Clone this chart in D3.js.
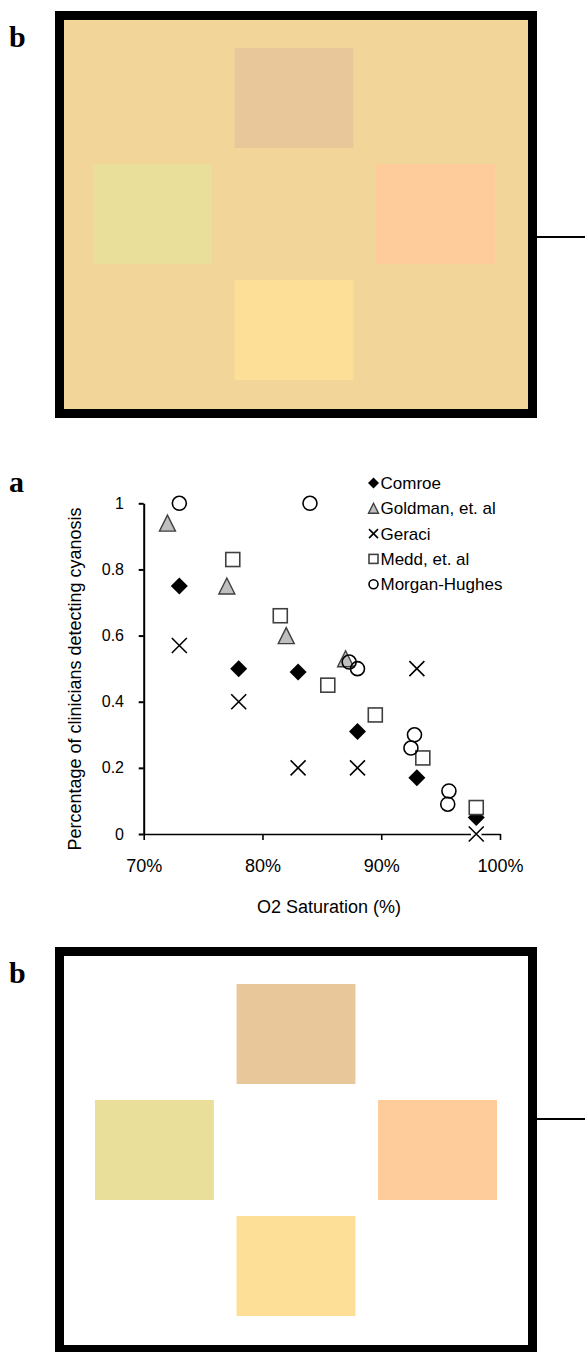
<!DOCTYPE html>
<html>
<head>
<meta charset="utf-8">
<script src="https://cdn.jsdelivr.net/npm/d3@7"></script>
<style>
  body { margin: 0; background: #fff; }
  svg { display: block; }
</style>
</head>
<body>
<div id="figure"></div>
<script>
// Scatter data (O2 saturation, fraction of clinicians detecting cyanosis)
const seriesNames = ['Comroe', 'Goldman, et. al', 'Geraci', 'Medd, et. al', 'Morgan-Hughes'];
const comroe = [[0.73, 0.75], [0.78, 0.50], [0.83, 0.49], [0.88, 0.31], [0.93, 0.17], [0.98, 0.05]];
const goldman = [[0.72, 0.94], [0.77, 0.75], [0.82, 0.60], [0.87, 0.53]];
const geraci = [[0.73, 0.57], [0.78, 0.40], [0.83, 0.20], [0.88, 0.20], [0.93, 0.50], [0.98, 0.00]];
const medd = [[0.775, 0.83], [0.815, 0.66], [0.855, 0.45], [0.895, 0.36], [0.935, 0.23], [0.98, 0.08]];
const morganHughes = [[0.73, 1.00], [0.84, 1.00], [0.873, 0.52], [0.88, 0.50], [0.928, 0.30], [0.925, 0.26], [0.957, 0.13], [0.956, 0.09]];
const xTicks = [0.7, 0.8, 0.9, 1.0];
const yTicks = [0, 0.2, 0.4, 0.6, 0.8, 1];

// Schematic panels: four coloured patches placed on a 3x3 grid
const patchCells = [[1, 0], [0, 1], [2, 1], [1, 2]];
const patchColors = ['#E8C79B', '#EADF9A', '#FECB9A', '#FDDF98'];

const width = 585, height = 1352;
const font = "Arial, 'Liberation Sans', sans-serif";

const svg = d3.select('#figure').append('svg')
    .attr('width', width)
    .attr('height', height);

// ---- panel b (used twice: filled background on top, white at the bottom)
function drawSchematic(top, boxFill, dx, connectorY) {
    const g = svg.append('g');
    const box = { left: 55, right: 537, top: top, bottom: top + 407 };

    g.append('text')
        .attr('x', 9).attr('y', top + 36)
        .attr('font-family', "'Times New Roman', 'Liberation Serif', serif")
        .attr('font-weight', 'bold').attr('font-size', 30)
        .text('b');

    // connector to the right
    g.append('line')
        .attr('x1', box.right).attr('x2', width)
        .attr('y1', connectorY).attr('y2', connectorY)
        .attr('stroke', '#000').attr('stroke-width', 2);

    g.append('rect')
        .attr('x', box.left + 4.5).attr('y', box.top + 4.5)
        .attr('width', box.right - box.left - 9)
        .attr('height', box.bottom - box.top - 9)
        .attr('fill', boxFill)
        .attr('stroke', '#000').attr('stroke-width', 9);

    const col = d3.scaleBand().domain([0, 1, 2])
        .range([93 + dx, 495 + dx]).paddingInner(0.16);
    const row = d3.scaleBand().domain([0, 1, 2])
        .range([top + 37, top + 369]).paddingInner(0.138);

    g.selectAll('.patch')
        .data(patchCells)
        .enter()
        .append('rect')
        .attr('class', 'patch')
        .attr('x', d => col(d[0]))
        .attr('y', d => row(d[1]))
        .attr('width', col.bandwidth())
        .attr('height', row.bandwidth())
        .attr('fill', (d, i) => patchColors[i]);
}

drawSchematic(11, '#F2D598', 0, 237);
drawSchematic(947, '#FFFFFF', 2, 1119);

// ---- panel a: scatter
const x = d3.scaleLinear().domain([0.7, 1.0]).range([143.7, 500]);
const y = d3.scaleLinear().domain([0, 1]).range([834, 503.3]);

svg.append('text')
    .attr('x', 9).attr('y', 492)
    .attr('font-family', "'Times New Roman', 'Liberation Serif', serif")
    .attr('font-weight', 'bold').attr('font-size', 30)
    .text('a');

const yAxis = svg.append('g')
    .attr('transform', `translate(${x(0.7)},0)`)
    .call(d3.axisLeft(y).tickValues(yTicks).tickFormat(d3.format('~g'))
        .tickSize(5).tickSizeOuter(0).tickPadding(14.7));

const xAxis = svg.append('g')
    .attr('transform', `translate(0,${y(0)})`)
    .call(d3.axisBottom(x).tickValues(xTicks).tickFormat(d3.format('.0%'))
        .tickSize(6).tickSizeOuter(0).tickPadding(19));

yAxis.selectAll('path, line').attr('stroke', '#000').attr('stroke-width', 2);
xAxis.selectAll('path, line').attr('stroke', '#000').attr('stroke-width', 1.6);
yAxis.selectAll('text').attr('font-family', font).attr('font-size', 16).attr('fill', '#000');
xAxis.selectAll('text').attr('font-family', font).attr('font-size', 18).attr('fill', '#000');

svg.append('text')
    .attr('transform', 'translate(81,679) rotate(-90)')
    .attr('text-anchor', 'middle')
    .attr('font-family', font).attr('font-size', 18)
    .text('Percentage of clinicians detecting cyanosis');

svg.append('text')
    .attr('x', 329).attr('y', 913)
    .attr('text-anchor', 'middle')
    .attr('font-family', font).attr('font-size', 18)
    .text('O2 Saturation (%)');

// marker drawing helpers, s = half size
const markers = [
    (g, s) => g.append('path')
        .attr('d', `M0,${-s}L${s},0L0,${s}L${-s},0Z`)
        .attr('fill', '#000'),
    (g, s) => g.append('path')
        .attr('d', `M0,${-s}L${s},${s}L${-s},${s}Z`)
        .attr('fill', '#BFBFBF').attr('stroke', '#404040').attr('stroke-width', 1.4),
    (g, s) => {
        g.append('rect').attr('x', -s * 0.7).attr('y', -s * 0.7)
            .attr('width', s * 1.4).attr('height', s * 1.4).attr('fill', '#fff');
        g.append('path')
            .attr('d', `M${-s},${-s}L${s},${s}M${s},${-s}L${-s},${s}`)
            .attr('stroke', '#000').attr('stroke-width', 1.6);
    },
    (g, s) => g.append('rect')
        .attr('x', -s).attr('y', -s).attr('width', 2 * s).attr('height', 2 * s)
        .attr('fill', '#fff').attr('stroke', '#404040').attr('stroke-width', 1.6),
    (g, s) => g.append('circle')
        .attr('r', s).attr('fill', 'none')
        .attr('stroke', '#000').attr('stroke-width', 1.6)
];
const markerSizes = [8.5, 8, 7.5, 7, 7];
const legendSizes = [5.5, 5, 4.5, 4.5, 4.5];

const allSeries = [comroe, goldman, geraci, medd, morganHughes];

allSeries.forEach((data, i) => {
    svg.append('g').selectAll('.pt')
        .data(data)
        .enter()
        .append('g')
        .attr('class', 'pt')
        .attr('transform', d => `translate(${x(d[0])},${y(d[1])})`)
        .each(function () { markers[i](d3.select(this), markerSizes[i]); });
});

// legend
const legend = svg.append('g').attr('transform', 'translate(373.5,483)');
seriesNames.forEach((name, i) => {
    const row = legend.append('g').attr('transform', `translate(0,${i * 25.3})`);
    markers[i](row.append('g'), legendSizes[i]);
    row.append('text')
        .attr('x', 7).attr('y', 6)
        .attr('font-family', font).attr('font-size', 17)
        .text(name);
});
</script>
</body>
</html>
